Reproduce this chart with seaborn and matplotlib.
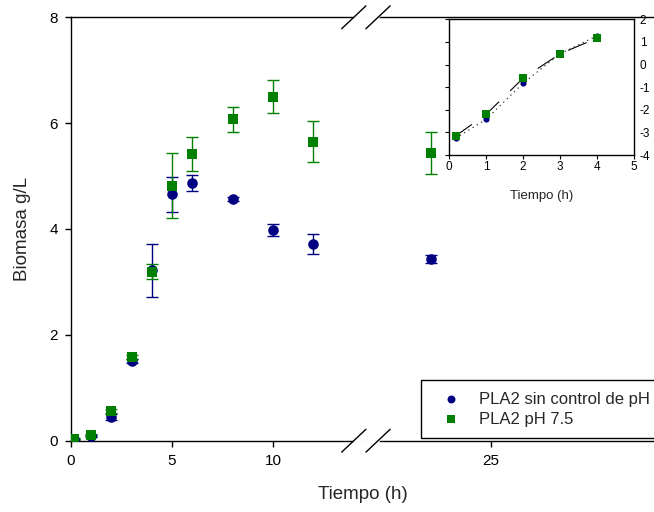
import numpy as np
import pandas as pd
import matplotlib
matplotlib.use('Agg')
import matplotlib.pyplot as plt
import matplotlib.transforms as mtransforms
import seaborn as sns

# datos
tiempo = [0.17, 1, 2, 3, 4, 5, 6, 8, 10, 12, 22]
biomasa_sin_ph = [0.03, 0.09, 0.45, 1.50, 3.22, 4.66, 4.87, 4.57, 3.98, 3.72, 3.43]
err_sin_ph = [0.01, 0.02, 0.05, 0.04, 0.50, 0.33, 0.15, 0.04, 0.12, 0.19, 0.07]
biomasa_ph75 = [0.04, 0.10, 0.56, 1.58, 3.19, 4.82, 5.41, 6.07, 6.50, 5.65, 5.43]
err_ph75 = [0.01, 0.02, 0.04, 0.03, 0.14, 0.61, 0.32, 0.23, 0.31, 0.39, 0.40]

# inset: ln(biomasa) en la fase exponencial
tiempo_ln = [0.17, 1, 2, 3, 4]
ln_sin_ph = [-3.26, -2.42, -0.83, 0.47, 1.26]
ln_ph75 = [-3.16, -2.20, -0.61, 0.47, 1.16]

series = ['PLA2 sin control de pH', 'PLA2 pH 7.5']
colores = ['#000080', '#008000']
marcadores = ['o', 's']
x_ticks = [0, 5, 10, 25]
y_ticks = [0, 2, 4, 6, 8]

# eje x cortado: todo lo que esta despues del corte se corre a la izquierda
corte = 14.5
salto = 4.2


def eje_x(t):
    t = np.asarray(t, dtype=float)
    return np.where(t > corte, t - salto, t)


sns.set_theme(style='ticks', rc={'axes.edgecolor': 'black', 'xtick.color': 'black',
                                 'ytick.color': 'black', 'axes.linewidth': 1.0})
plt.rcParams['font.family'] = ['Liberation Sans', 'DejaVu Sans']
plt.rcParams['axes.unicode_minus'] = False

W, H = 654, 512
fig = plt.figure(figsize=(W / 100, H / 100), dpi=100)
ax = fig.add_axes([71 / W, 1 - 440.7 / H, 1 - 71 / W, (440.7 - 17.3) / H])

valores = [biomasa_sin_ph, biomasa_ph75]
errores = [err_sin_ph, err_ph75]
for serie, col, mk, y, e in zip(series, colores, marcadores, valores, errores):
    ax.errorbar(eje_x(tiempo), y, yerr=e, fmt='none', ecolor=col, elinewidth=1,
                capsize=4.3, capthick=1, zorder=2)
    df = pd.DataFrame({'x': eje_x(tiempo), 'y': y})
    sns.scatterplot(data=df, x='x', y='y', ax=ax, color=col, marker=mk, s=58,
                    linewidth=0, label=serie, zorder=3)

ax.set_xlim(0, (W - 71) / 20.2)
ax.set_ylim(0, 8)
ax.set_xticks(eje_x(x_ticks))
ax.set_xticklabels([str(v) for v in x_ticks])
ax.set_yticks(y_ticks)
ax.tick_params(direction='out', length=4.5, width=1, labelsize=11, pad=5)
ax.spines['right'].set_visible(False)
ax.set_xlabel('Tiempo (h)', fontsize=13.5, labelpad=13)
ax.set_ylabel('Biomasa g/L', fontsize=13.5, labelpad=13)

leg = ax.legend(loc='lower left', bbox_to_anchor=(420.7 / W, 1 - 438.3 / H),
                bbox_transform=fig.transFigure, frameon=True, fancybox=False,
                edgecolor='black', framealpha=1, fontsize=12, borderpad=0.7,
                handlelength=2.2, handletextpad=0.6, labelspacing=0.3,
                markerscale=0.75, borderaxespad=0)
leg.get_frame().set_linewidth(1)

# marcas del corte en el eje
trans = mtransforms.blended_transform_factory(ax.transData, ax.transAxes)
marcas = [14.0, 15.2]
for y0 in (0, 1):
    ax.plot(marcas, [y0, y0], color='white', lw=2, transform=trans,
            clip_on=False, zorder=5)
    for xc in marcas:
        ax.plot([xc - 0.6, xc + 0.6], [y0 - 0.027, y0 + 0.027], color='black',
                lw=1, transform=trans, clip_on=False, zorder=6)

# inset
axin = fig.add_axes([449.3 / W, 1 - 155 / H, (633.5 - 449.3) / W, (155 - 19.3) / H])
sns.lineplot(x=tiempo_ln, y=ln_ph75, ax=axin, color='black', lw=0.8,
             linestyle=(0, (18, 14)), sort=False, estimator=None, zorder=2)
sns.lineplot(x=tiempo_ln, y=ln_sin_ph, ax=axin, color='#333333', lw=0.9,
             linestyle=(0, (1, 3)), sort=False, estimator=None, zorder=2)
sns.scatterplot(x=tiempo_ln, y=ln_sin_ph, ax=axin, color=colores[0], marker='o',
                s=20, linewidth=0, zorder=3)
sns.scatterplot(x=tiempo_ln, y=ln_ph75, ax=axin, color=colores[1], marker='s',
                s=26, linewidth=0, zorder=4)
axin.set_xlim(0, 5)
axin.set_ylim(-4, 2)
axin.set_xticks(range(0, 6))
axin.set_yticks(range(-4, 3))
axin.yaxis.tick_right()
axin.tick_params(axis='y', left=True, right=False, labelleft=False, labelright=True)
axin.tick_params(direction='out', length=3, width=0.8, labelsize=8.5, pad=1.5)
axin.set_xlabel('Tiempo (h)', fontsize=9.5, labelpad=12)
axin.set_ylabel('')
for s in axin.spines.values():
    s.set_linewidth(1)

fig.savefig('out.png', dpi=100)
